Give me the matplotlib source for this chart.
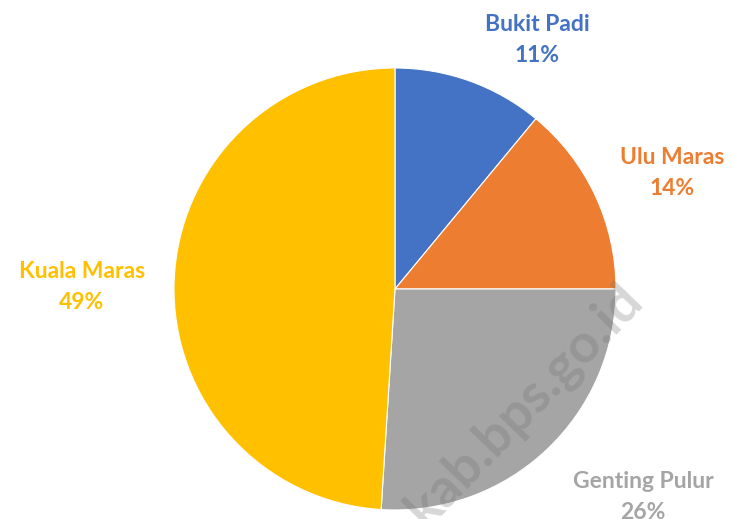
import matplotlib.pyplot as plt

labels = ["Bukit Padi", "Ulu Maras", "Genting Pulur", "Kuala Maras"]
shares = [11, 14, 26, 49]
colors = ["#4472C4", "#ED7D31", "#A5A5A5", "#FFC000"]
text_colors = ["#4472C4", "#ED7D31", "#A5A5A5", "#FFC000"]
# label positions in pixel coords (x, y from top)
label_pos = [(537, 40), (672, 173), (643, 497), (82, 287)]

W, H = 733, 519
fig = plt.figure(figsize=(W / 100, H / 100), dpi=100)
ax = fig.add_axes([0, 0, 1, 1])

ax.pie(shares, colors=colors, startangle=90, counterclock=False,
       center=(395, H - 289), radius=221,
       wedgeprops=dict(linewidth=0.8, edgecolor="white"))

ax.set_xlim(0, W)
ax.set_ylim(0, H)
ax.set_aspect("equal")
ax.axis("off")

for lab, val, (x, y), c in zip(labels, shares, label_pos, text_colors):
    ax.text(x, H - y, f"{lab}\n{val}%", ha="center", va="center",
            color=c, fontsize=16.5, fontweight="bold", family="Lato",
            linespacing=1.55)

# watermark
ax.text(524, H - 404, "kab.bps.go.id", rotation=46, ha="center", va="center",
        fontsize=39, fontweight="bold", family="Lato",
        color="#707070", alpha=0.28)

fig.savefig("out.png", dpi=100)
